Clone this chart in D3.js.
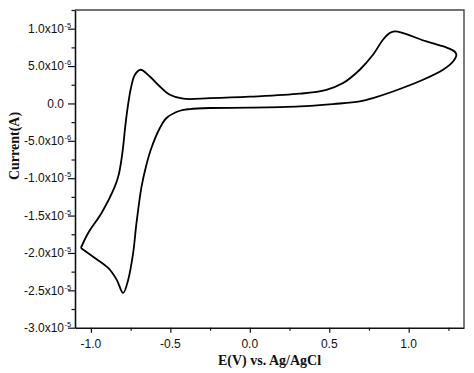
<!DOCTYPE html>
<html>
<head>
<meta charset="utf-8">
<script src="https://cdn.jsdelivr.net/npm/d3@7/dist/d3.min.js"></script>
<style>
  body { margin: 0; background: #fff; }
  .tick-label { font-family: "Liberation Sans", Arial, sans-serif; font-size: 12px; fill: #111; }
  .tick-exp { font-family: "Liberation Sans", Arial, sans-serif; font-size: 7.5px; fill: #111; }
  .axis-title { font-family: "Liberation Serif", "Times New Roman", serif; font-size: 14px; font-weight: bold; fill: #111; }
</style>
</head>
<body>
<div id="chart"></div>
<script>
// potential (V vs. Ag/AgCl) and current (units of 1e-6 A)
// positive-going scan, from the negative vertex to the positive vertex
var fwdE = [-1.063, -1.017, -0.933, -0.849, -0.825, -0.811, -0.797, -0.786, -0.772, -0.748, -0.723, -0.687,
  -0.629, -0.566, -0.503, -0.419, -0.252, 0.0, 0.314, 0.482, 0.587, 0.692,
  0.775, 0.838, 0.881, 0.912, 0.964, 1.111, 1.247, 1.289, 1.300];
var fwdI = [-19.33, -17.33, -14.65, -11.10, -9.53, -7.97, -5.79, -3.52, -1.07, 2.06, 3.84, 4.51,
  3.61, 2.27, 1.16, 0.63, 0.70, 0.90, 1.30, 1.83, 2.73, 4.51,
  6.51, 8.52, 9.41, 9.63, 9.41, 8.29, 7.41, 6.95, 6.51];
// negative-going scan, back to the negative vertex
var revE = [1.279, 1.216, 1.090, 0.901, 0.775, 0.692, 0.524, 0.314, 0.0, -0.252,
  -0.377, -0.440, -0.524, -0.566, -0.623, -0.652, -0.681, -0.713, -0.734, -0.765,
  -0.797, -0.838, -0.891, -0.975, -1.063];
var revI = [5.61, 4.51, 3.17, 1.60, 0.72, 0.27, -0.08, -0.40, -0.57, -0.61,
  -0.75, -0.98, -1.95, -3.29, -6.19, -8.33, -11.10, -15.99, -20.00, -23.57,
  -25.35, -23.57, -22.01, -20.67, -19.33];

var yTicks = [10, 5, 0, -5, -10, -15, -20, -25, -30];
var yTickMain = ["1.0x10", "5.0x10", "0.0", "-5.0x10", "-1.0x10", "-1.5x10", "-2.0x10", "-2.5x10", "-3.0x10"];
var yTickExp = ["-5", "-6", "", "-6", "-5", "-5", "-5", "-5", "-5"];
var yMinor = [12.5, 7.5, 2.5, -2.5, -7.5, -12.5, -17.5, -22.5, -27.5];
var xTicks = [-1.0, -0.5, 0.0, 0.5, 1.0];
var xTickLabels = ["-1.0", "-0.5", "0.0", "0.5", "1.0"];
var xMinor = [-0.75, -0.25, 0.25, 0.75, 1.25];

var svgWidth = 474;
var svgHeight = 373;
var margin = { top: 10, right: 10, bottom: 45.3, left: 75 };
var width = svgWidth - margin.left - margin.right;
var height = svgHeight - margin.top - margin.bottom;

var svg = d3.select("#chart")
  .append("svg")
  .attr("width", svgWidth)
  .attr("height", svgHeight);

var chartGroup = svg.append("g")
  .attr("transform", `translate(${margin.left}, ${margin.top})`);

var xScale = d3.scaleLinear().domain([-1.1, 1.348]).range([0, width]);
var yScale = d3.scaleLinear().domain([-30, 12.5]).range([height, 0]);

// top and right frame
chartGroup.append("path")
  .attr("d", `M0,0H${width}V${height}`)
  .attr("fill", "none")
  .attr("stroke", "#444")
  .attr("stroke-width", 1.4);

// minor ticks
chartGroup.append("g")
  .call(d3.axisLeft(yScale).tickValues(yMinor).tickSize(3.5).tickFormat(""))
  .call(g => g.select(".domain").remove());
chartGroup.append("g")
  .attr("transform", `translate(0, ${height})`)
  .call(d3.axisBottom(xScale).tickValues(xMinor).tickSize(3).tickFormat(""))
  .call(g => g.select(".domain").remove());

// major ticks
var yAxis = chartGroup.append("g")
  .call(d3.axisLeft(yScale).tickValues(yTicks).tickSize(7).tickSizeOuter(0).tickFormat(""));
var xAxis = chartGroup.append("g")
  .attr("transform", `translate(0, ${height})`)
  .call(d3.axisBottom(xScale).tickValues(xTicks).tickSize(5).tickSizeOuter(0).tickFormat(""));

chartGroup.selectAll(".domain").attr("stroke-width", 1.6).attr("stroke", "#111");
chartGroup.selectAll(".tick line").attr("stroke-width", 1.2).attr("stroke", "#111");

// y tick labels with exponent
yTicks.forEach(function(v, k) {
  chartGroup.append("text")
    .attr("class", "tick-label")
    .attr("x", -11)
    .attr("y", yScale(v) + 4.3)
    .attr("text-anchor", "end")
    .text(yTickMain[k]);
  if (yTickExp[k]) {
    chartGroup.append("text")
      .attr("class", "tick-exp")
      .attr("x", -10.5)
      .attr("y", yScale(v) - 0.8)
      .text(yTickExp[k]);
  }
});

// x tick labels
xTicks.forEach(function(v, k) {
  chartGroup.append("text")
    .attr("class", "tick-label")
    .attr("x", xScale(v))
    .attr("y", height + 20)
    .attr("text-anchor", "middle")
    .text(xTickLabels[k]);
});

// axis titles
chartGroup.append("text")
  .attr("class", "axis-title")
  .attr("x", width / 2)
  .attr("y", height + 37.5)
  .attr("text-anchor", "middle")
  .text("E(V) vs. Ag/AgCl");

chartGroup.append("text")
  .attr("class", "axis-title")
  .attr("transform", `translate(${19 - margin.left}, 136) rotate(-90)`)
  .attr("text-anchor", "middle")
  .text("Current(A)");

// voltammogram
var points = [];
fwdE.forEach((e, k) => points.push([e, fwdI[k]]));
revE.forEach((e, k) => points.push([e, revI[k]]));

var line = d3.line()
  .x(d => xScale(d[0]))
  .y(d => yScale(d[1]))
  .curve(d3.curveCatmullRom.alpha(0.5));

chartGroup.append("path")
  .datum(points)
  .attr("d", line)
  .attr("fill", "none")
  .attr("stroke", "#000")
  .attr("stroke-width", 1.8)
  .attr("stroke-linejoin", "round");
</script>
</body>
</html>
